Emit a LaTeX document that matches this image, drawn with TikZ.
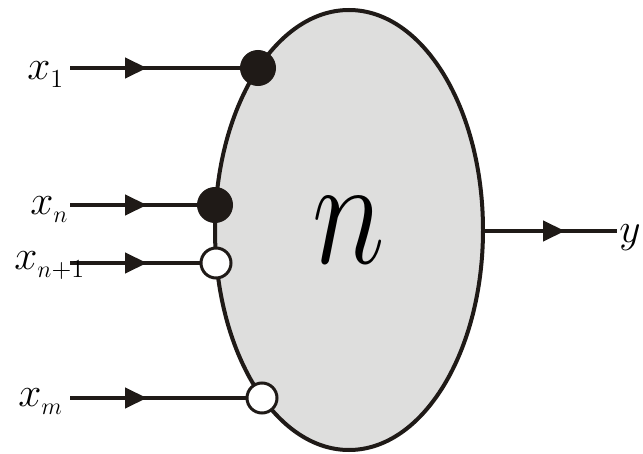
\documentclass[tikz,border=0pt]{standalone}
\usepackage{tikz}
\usetikzlibrary{arrows.meta,positioning,shapes.geometric,decorations.markings}
\definecolor{cellGray}{HTML}{DEDEDD}
\definecolor{inkDark}{HTML}{1F1A17}
\newcommand{\idx}[1]{\raisebox{-4pt}{\fontsize{13}{13}\selectfont #1}}
\tikzset{
  wire/.style={draw=inkDark, line width=2.2pt},
  midarrow/.style={postaction={decorate}, decoration={markings, mark=at position #1 with {\arrow{Triangle[length=11pt,width=10pt]}}}},
  celula/.style={ellipse, draw=inkDark, line width=2pt, fill=cellGray, minimum width=134pt, minimum height=220pt, inner sep=0pt, font=\fontsize{24.88}{24.88}\selectfont},
  fulldot/.style={circle, draw=inkDark, line width=1.5pt, fill=inkDark, minimum size=16.5pt, inner sep=0pt},
  opendot/.style={circle, draw=inkDark, line width=1.5pt, fill=white, minimum size=15pt, inner sep=0pt},
  inlabel/.style={anchor=base west, inner sep=0pt, font=\fontsize{22}{22}\selectfont},
}
\begin{document}
\begin{tikzpicture}[x=0.5pt, y=-0.5pt]
\useasboundingbox (0,0) rectangle (643,454);
\node[celula] (cell) at (349,230) {\scalebox{2.5}[3.1]{$n$}};
% entradas
\coordinate (s1) at (70,68);
\coordinate (s2) at (70,205);
\coordinate (s3) at (70,263);
\coordinate (s4) at (70,398);
\draw[wire, midarrow=38.5pt] (s1) -- (258,68) node[fulldot] (d1) {};
\draw[wire, midarrow=38.5pt] (s2) -- (215,205) node[fulldot] (d2) {};
\draw[wire, midarrow=38.5pt] (s3) -- (216,263) node[opendot] (d3) {};
\draw[wire, midarrow=38.5pt] (s4) -- (262,398) node[opendot] (d4) {};
\node[inlabel] (l1) at (27,80) {$x$\idx{1}};
\node[inlabel] (l2) at (30,215) {$x$\idx{$n$}};
\node[inlabel] (l3) at (14,270) {$x$\idx{$n$+1}};
\node[inlabel] (l4) at (18,407) {$x$\idx{$m$}};
% salida
\coordinate (yend) at (617,231);
\draw[wire, midarrow=40pt] (cell.east |- yend) -- (yend);
\node[inlabel] (ly) at (619,243) {$y$};
\end{tikzpicture}
\end{document}
